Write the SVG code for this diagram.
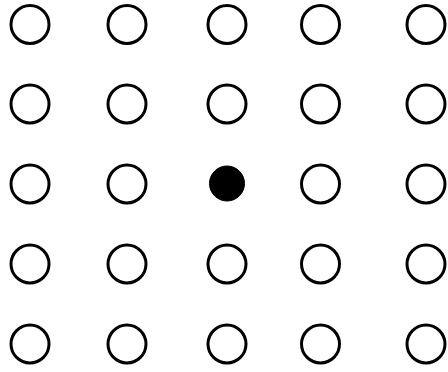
<svg xmlns="http://www.w3.org/2000/svg" width="448" height="372" viewBox="0 0 448 372">
<style>
.o{fill:#fff;stroke:#000;stroke-width:3}
.f{fill:#000;stroke:#000;stroke-width:1}
</style>
<rect width="448" height="372" fill="#fff"/>
<g id="r1">
<circle class="o" cx="30" cy="24.5" r="19"/><circle class="o" cx="127" cy="24.5" r="19"/><circle class="o" cx="227" cy="24.5" r="19"/><circle class="o" cx="320.5" cy="24.5" r="19"/><circle class="o" cx="426" cy="24.5" r="19"/>
</g>
<g id="r2">
<circle class="o" cx="30" cy="104" r="19"/><circle class="o" cx="127" cy="104" r="19"/><circle class="o" cx="227" cy="104" r="19"/><circle class="o" cx="320.5" cy="104" r="19"/><circle class="o" cx="426" cy="104" r="19"/>
</g>
<g id="r3">
<circle class="o" cx="30" cy="184" r="19"/><circle class="o" cx="127" cy="184" r="19"/><circle class="f" cx="227" cy="183.5" r="17.5"/><circle class="o" cx="320.5" cy="184" r="19"/><circle class="o" cx="426" cy="184" r="19"/>
</g>
<g id="r4">
<circle class="o" cx="30" cy="264" r="19"/><circle class="o" cx="127" cy="264" r="19"/><circle class="o" cx="227" cy="264" r="19"/><circle class="o" cx="320.5" cy="264" r="19"/><circle class="o" cx="426" cy="264" r="19"/>
</g>
<g id="r5">
<circle class="o" cx="30" cy="344" r="19"/><circle class="o" cx="127" cy="344" r="19"/><circle class="o" cx="227" cy="344" r="19"/><circle class="o" cx="320.5" cy="344" r="19"/><circle class="o" cx="426" cy="344" r="19"/>
</g>
</svg>
